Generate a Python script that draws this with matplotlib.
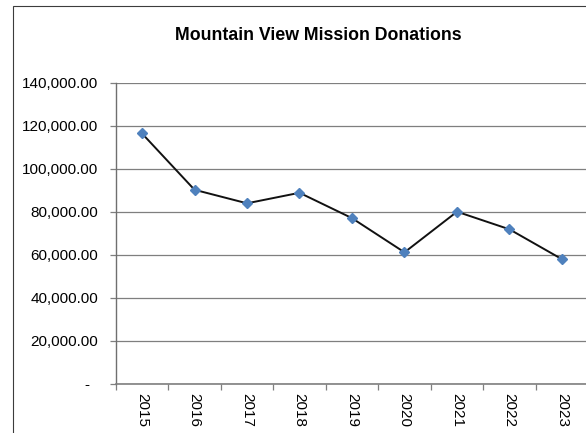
import matplotlib
matplotlib.use('Agg')
import matplotlib.pyplot as plt
from matplotlib.patches import Rectangle
from matplotlib.ticker import FuncFormatter, FixedLocator

plt.rcParams['font.family'] = ['Liberation Sans', 'DejaVu Sans']

years = ['2015', '2016', '2017', '2018', '2019', '2020', '2021', '2022', '2023']
donations = [116400, 90200, 83900, 88800, 77000, 61100, 80000, 71800, 57900]

W, H = 586, 433
fig = plt.figure(figsize=(W/100, H/100), dpi=100)
fig.patch.set_facecolor('white')

# chart area border (runs off the right and bottom edges)
fig.add_artist(Rectangle((12.5/W, -0.5), 2, 0.5 + 1 - 6/H, transform=fig.transFigure,
                         fill=False, edgecolor='#3c3c3c', linewidth=0.8))

ax = fig.add_axes([115.75/W, 49.3/H, 472.5/W, 301/H])
x = list(range(len(years)))
ax.plot(x, donations, color='#111111', linewidth=1.4, zorder=3)
ax.plot(x, donations, linestyle='none', marker='D', markersize=5.5,
        color='#4f81bd', markeredgecolor='#4f81bd', zorder=4)

ax.set_xlim(-0.5, len(years) - 0.5)
ax.set_ylim(0, 140000)
ax.set_yticks(range(0, 140001, 20000))

def fmt(v, pos):
    if v == 0:
        return '-  '
    return '{:,.2f}'.format(v)

ax.yaxis.set_major_formatter(FuncFormatter(fmt))
ax.yaxis.grid(True, color='#7f7f7f', linewidth=0.9)
ax.set_axisbelow(True)

ax.xaxis.set_major_locator(FixedLocator([i - 0.5 for i in range(len(years) + 1)]))
ax.xaxis.set_minor_locator(FixedLocator(x))
ax.set_xticklabels([], minor=False)
ax.set_xticklabels(years, minor=True, rotation=270)
ax.tick_params(axis='x', which='minor', length=0, pad=7, labelsize=11)
ax.tick_params(axis='x', which='major', length=4, color='#7f7f7f', width=0.9)
ax.tick_params(axis='y', length=4, color='#7f7f7f', width=0.9, pad=8.5, labelsize=11)

for s in ['top', 'right']:
    ax.spines[s].set_visible(False)
ax.spines['left'].set_color('#6f6f6f')
ax.spines['left'].set_linewidth(1.0)
ax.spines['bottom'].set_color('#7f7f7f')
ax.spines['bottom'].set_linewidth(1.2)

fig.text(318.8/W, 1 - 36/H, 'Mountain View Mission Donations', ha='center', va='center',
         fontsize=12.8, fontweight='bold')

fig.savefig('out.png', dpi=100)
